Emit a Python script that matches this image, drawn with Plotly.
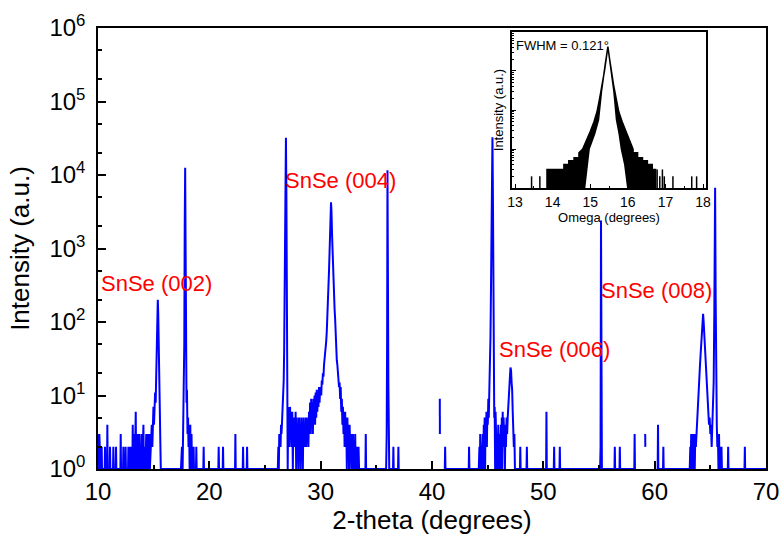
import plotly.graph_objects as go

# ---------------- main XRD scan: (2-theta, counts) ----------------
scan_10_24 = [(10.00,1),(10.04,3),(10.08,1),(10.12,3),(10.16,2),(10.20,1),(10.30,1),(10.33,2),(10.36,1),
    (10.60,1),(10.63,2),(10.66,1),(10.81,1),(10.84,4),(10.87,1),(11.05,1),(11.08,2),(11.11,1),(11.35,1),
    (11.38,2),(11.41,1),(11.59,1),(11.62,2),(11.65,1),(12.01,1),(12.04,3),(12.07,1),(12.25,1),(12.28,2),
    (12.31,1),(12.45,1),(12.48,2),(12.51,1),(12.70,1),(12.73,2),(12.78,1),(12.85,1),(12.88,2),(12.92,1),
    (13.02,2),(13.08,1),(13.12,4),(13.16,1),(13.22,3),(13.28,1),(13.34,2),(13.39,6),(13.43,1),(13.49,3),
    (13.54,3),(13.58,1),(13.65,2),(13.72,3),(13.76,1),(13.82,2),(13.88,1),(13.93,3),(13.97,1),(14.03,2),
    (14.08,4),(14.12,1),(14.18,2),(14.23,2),(14.27,1),(14.33,3),(14.38,1),(14.44,3),(14.48,1),(14.54,2),
    (14.62,3),(14.66,1),(14.72,2),(14.78,4),(14.83,4),(14.88,2),(14.93,5),(14.98,7),(15.03,4),(15.08,9),
    (15.13,11),(15.18,8),(15.22,20),(15.27,45),(15.32,110),(15.37,200),(15.41,130),(15.45,45),(15.50,12),
    (15.55,9),(15.60,3),(15.64,1),
    (17.45,1),(17.54,2),(17.60,1),(17.66,3),(17.70,6),(17.75,50),(17.79,2000),(17.83,12500),(17.87,900),
    (17.91,40),(17.95,8),(17.99,12),(18.04,3),(18.09,5),(18.13,2),(18.18,4),(18.23,1),(18.29,4),(18.33,1),
    (18.40,3),(18.44,1),(18.56,1),(18.59,2),(18.62,1),(18.80,1),(18.83,2),(18.86,1),(19.46,1),(19.49,2),
    (19.52,1),(20.81,1),(20.84,2),(20.87,1),(21.20,1),(21.23,2),(21.26,1),(22.31,1),(22.34,3),(22.37,1),
    (23.00,1),(23.03,2),(23.06,1),(23.36,1),(23.39,2),(23.42,1)]

scan_26_38 = [(26.15,1),(26.20,2),(26.24,1),(26.28,3),(26.32,2),(26.36,3),(26.40,2),(26.44,4),(26.48,3),
    (26.52,4),(26.56,6),(26.60,5),(26.64,9),(26.68,16),(26.72,40),(26.76,150),(26.80,1200),(26.84,9000),
    (26.88,32000),(26.92,6000),(26.96,300),(27.00,16),(27.04,1),(27.08,6),(27.12,3),(27.16,7),(27.20,2),
    (27.25,7),(27.30,3),(27.35,6),(27.40,2),(27.45,6),(27.50,1),(27.55,5),(27.60,3),(27.65,5),(27.70,2),
    (27.75,6),(27.80,1),(27.85,5),(27.90,2),(27.95,4),(28.00,1),(28.05,5),(28.10,2),(28.15,4),(28.20,1),
    (28.25,5),(28.30,3),(28.35,4),(28.40,1),(28.45,5),(28.50,2),(28.55,4),(28.60,2),(28.65,5),(28.70,2),
    (28.75,5),(28.80,3),(28.85,4),(28.90,2),(28.95,6),(29.00,3),(29.05,8),(29.10,3),(29.15,9),(29.20,4),
    (29.25,8),(29.30,3),(29.35,9),(29.40,4),(29.45,10),(29.50,4),(29.55,11),(29.60,5),(29.65,12),(29.70,6),
    (29.75,11),(29.80,7),(29.85,13),(29.90,8),(29.95,12),(30.00,13),(30.05,10),(30.10,16),(30.15,14),
    (30.20,20),(30.25,18),(30.30,26),(30.35,30),(30.40,34),(30.45,40),(30.50,55),(30.55,75),(30.60,110),
    (30.65,180),(30.70,300),(30.75,500),(30.80,900),(30.85,1600),(30.90,3000),(30.93,4250),(30.97,3200),
    (31.02,1600),(31.06,900),(31.10,550),(31.15,350),(31.20,220),(31.25,150),(31.30,110),(31.35,60),
    (31.40,40),(31.45,30),(31.50,26),(31.55,18),(31.60,20),(31.65,13),(31.70,15),(31.75,9),(31.80,13),
    (31.85,6),(31.90,9),(31.95,4),(32.00,7),(32.05,3),(32.10,6),(32.15,2),(32.20,6),(32.25,2),(32.30,5),
    (32.35,1),(32.40,5),(32.45,2),(32.50,4),(32.55,1),(32.60,4),(32.65,2),(32.70,3),(32.75,1),(32.80,3),
    (32.85,1),(32.90,3),(32.95,1),(33.00,2),(33.05,1),(33.10,3),(33.15,1),(33.25,2),(33.30,1),(33.40,2),
    (33.45,1),(34.02,1),(34.05,3),(34.08,1),
    (35.88,1),(35.93,3),(35.97,60),(36.00,11600),(36.04,500),(36.08,15),(36.12,3),(36.16,1),(36.50,1),
    (36.53,2),(36.56,1),(36.95,1),(36.98,2),(37.01,1)]

scan_40_52 = [(40.60,None),(40.70,9),(40.71,3),(40.80,None),(41.15,1),(41.18,2),(41.21,1),(43.30,1),
    (43.33,2),(43.36,1),(44.20,1),(44.26,2),(44.30,1),(44.33,3),(44.37,1),(44.42,2),(44.46,1),(44.52,3),
    (44.56,3),(44.60,1),(44.65,4),(44.69,2),(44.73,5),(44.77,1),(44.81,5),(44.85,3),(44.89,6),(44.93,2),
    (44.97,6),(45.01,4),(45.06,9),(45.10,5),(45.15,12),(45.20,20),(45.25,60),(45.30,300),(45.35,3000),
    (45.40,20000),(45.43,32600),(45.47,6000),(45.51,200),(45.55,20),(45.59,5),(45.63,7),(45.67,1),
    (45.71,6),(45.75,2),(45.79,3),(45.83,1),(45.87,3),(45.91,1),(45.95,4),(45.99,2),(46.03,3),(46.07,1),
    (46.11,3),(46.15,1),(46.19,4),(46.23,2),(46.27,5),(46.31,1),(46.35,6),(46.39,2),(46.43,5),(46.47,3),
    (46.51,4),(46.55,1),(46.60,4),(46.64,2),(46.70,5),(46.75,3),(46.80,5),(46.85,8),(46.90,10),(46.95,13),
    (47.00,18),(47.05,24),(47.10,22),(47.15,15),(47.20,12),(47.25,6),(47.30,4),(47.35,2),(47.40,3),
    (47.45,1),(47.90,1),(47.93,2),(47.96,1),(48.49,1),(48.52,2),(48.55,1),(50.25,1),(50.28,6),(50.31,1),
    (50.94,1),(50.97,2),(51.00,1),(51.45,1),(51.48,2),(51.51,1)]

scan_55_70 = [(55.10,1),(55.14,2),(55.18,2400),(55.22,2),(55.26,1),(56.39,1),(56.42,2),(56.45,1),
    (56.84,1),(56.87,2),(56.90,1),(58.17,1),(58.20,3),(58.23,1),(59.10,None),(59.15,3),(59.16,2),
    (59.20,None),(60.27,1),(60.30,4),(60.33,1),(60.75,1),(60.78,2),(60.81,1),(63.15,1),(63.20,2),
    (63.24,1),(63.28,3),(63.32,1),(63.36,2),(63.40,3),(63.44,1),(63.48,3),(63.52,2),(63.56,3),(63.60,1),
    (63.65,3),(63.70,2),(63.76,3),(63.82,5),(63.88,7),(63.94,10),(64.00,15),(64.06,24),(64.12,35),
    (64.18,55),(64.24,80),(64.30,110),(64.35,129),(64.40,100),(64.46,65),(64.52,40),(64.58,24),(64.64,18),
    (64.70,12),(64.76,8),(64.82,6),(64.88,4),(64.94,5),(65.00,3),(65.06,4),(65.12,2),(65.18,4),(65.24,8),
    (65.30,15),(65.36,150),(65.43,6700),(65.48,200),(65.53,8),(65.58,4),(65.63,2),(65.68,3),(65.73,1),
    (65.78,3),(65.83,1),(65.90,2),(65.95,1),(66.00,2),(66.04,1),(66.57,1),(66.60,2),(66.63,1),(68.07,1),
    (68.10,2),(68.13,1),(70.00,1)]

peak_labels = ["SnSe (002)", "SnSe (004)", "SnSe (006)", "SnSe (008)"]
label_two_theta = [15.21, 31.79, 50.97, 60.18]
label_log_intensity = [2.53, 3.93, 1.62, 2.435]

y_tick_vals = [1, 10, 100, 1000, 10000, 100000, 1000000]
y_tick_text = ["10<sup>%d</sup>" % i for i in range(7)]

# ---------------- inset rocking curve (omega scan) ----------------
rc_upper = [(13.85,1),(13.85,3),(14.30,3),(14.30,4),(14.43,4),(14.43,5),(14.57,5),(14.57,6),(14.70,6),
    (14.70,8),(14.80,10),(14.90,16),(15.00,28),(15.10,50),(15.18,90),(15.25,200),(15.32,450),(15.38,1000),
    (15.43,2200),(15.47,4200),(15.51,2200),(15.56,1000),(15.62,450),(15.69,200),(15.76,90),(15.85,50),
    (15.95,28),(16.05,16),(16.14,10),(16.14,8),(16.26,8),(16.26,6),(16.39,6),(16.39,5),(16.52,5),(16.52,4),
    (16.65,4),(16.65,3),(16.74,3),(16.74,1)]
rc_lower = [(16.00,1),(15.92,4),(15.83,10),(15.77,25),(15.70,56),(15.63,300),(15.54,1500),(15.47,4200),
    (15.40,1500),(15.30,300),(15.22,56),(15.12,25),(14.97,10),(14.92,4),(14.85,1),(13.85,1)]
rc_spike_omega = [13.44, 13.66, 16.78, 16.85, 16.92, 16.97, 17.20, 17.70, 17.83]
rc_spike_counts = [2, 2, 3, 2, 3, 2, 2, 2, 2]

FONT = "Liberation Sans, Arial, sans-serif"

# build main trace
scan = scan_10_24 + scan_26_38 + scan_40_52 + scan_55_70
two_theta = [p[0] for p in scan]
intensity = [p[1] for p in scan]

fig = go.Figure()
fig.add_trace(go.Scatter(x=two_theta, y=intensity, mode="lines",
                         line=dict(color="#0000FF", width=2), connectgaps=False,
                         showlegend=False, hoverinfo="skip", xaxis="x", yaxis="y"))

band = rc_upper + rc_lower
fig.add_trace(go.Scatter(x=[p[0] for p in band], y=[p[1] for p in band], mode="lines",
                         fill="toself", fillcolor="black", line=dict(color="black", width=1.5),
                         showlegend=False, hoverinfo="skip", xaxis="x2", yaxis="y2"))
sx, sy = [], []
for om, c in zip(rc_spike_omega, rc_spike_counts):
    sx += [om, om, None]
    sy += [1, c, None]
fig.add_trace(go.Scatter(x=sx, y=sy, mode="lines", line=dict(color="black", width=1.5),
                         showlegend=False, hoverinfo="skip", xaxis="x2", yaxis="y2"))

for t, xv, yv in zip(peak_labels, label_two_theta, label_log_intensity):
    fig.add_annotation(x=xv, y=yv, xref="x", yref="y", text=t, showarrow=False,
                       font=dict(family=FONT, size=22, color="#FF0000"))

fig.add_annotation(x=0.008, y=0.915, xref="x2 domain", yref="y2 domain", text="FWHM = 0.121°",
                   showarrow=False, xanchor="left", yanchor="middle",
                   font=dict(family=FONT, size=13, color="black"))

fig.update_layout(
    width=780, height=536,
    margin=dict(l=98, r=14, t=28, b=67),
    paper_bgcolor="white", plot_bgcolor="white",
    font=dict(family=FONT, color="black"),
    xaxis=dict(range=[10, 70], dtick=10, tick0=10, ticks="inside", ticklen=8, tickwidth=1.5,
               tickcolor="black", showgrid=False, zeroline=False, showline=True, linecolor="black",
               linewidth=1.5, mirror=True, tickfont=dict(size=24), automargin=False,
               minor=dict(dtick=5, ticks="inside", ticklen=4, tickcolor="black", showgrid=False),
               title=dict(text="2-theta (degrees)", font=dict(size=26), standoff=0)),
    yaxis=dict(type="log", range=[0, 6], tickvals=y_tick_vals, ticktext=y_tick_text,
               ticks="inside", ticklen=8, tickwidth=1.5, tickcolor="black", showgrid=False,
               zeroline=False, showline=True, linecolor="black", linewidth=1.5, mirror=True,
               tickfont=dict(size=24), ticklabelstandoff=6, automargin=False,
               minor=dict(ticks="inside", ticklen=4, tickcolor="black", showgrid=False),
               title=dict(text="Intensity (a.u.)", font=dict(size=26), standoff=12)),
    xaxis2=dict(domain=[0.6198, 0.9102], anchor="y2", range=[12.92, 18.08], dtick=1, tick0=13,
                ticks="inside", ticklen=4, tickcolor="black", showgrid=False, zeroline=False,
                showline=True, linecolor="black", linewidth=1.5, mirror=True,
                tickfont=dict(size=14), automargin=False,
                minor=dict(dtick=0.5, ticks="inside", ticklen=2, tickcolor="black", showgrid=False),
                title=dict(text="Omega (degrees)", font=dict(size=13), standoff=1)),
    yaxis2=dict(domain=[0.637, 0.991], anchor="x2", type="log", range=[0, 4], dtick=1,
                ticks="inside", ticklen=4, tickcolor="black", showgrid=False, zeroline=False,
                showline=True, linecolor="black", linewidth=1.5, mirror=True, showticklabels=False,
                automargin=False,
                minor=dict(ticks="inside", ticklen=2, tickcolor="black", showgrid=False),
                title=dict(text="Intensity (a.u.)", font=dict(size=13), standoff=4)),
)

fig.write_html("out.html", config={"displayModeBar": False},
               post_script="document.body.style.margin='0';document.body.style.padding='0';")
